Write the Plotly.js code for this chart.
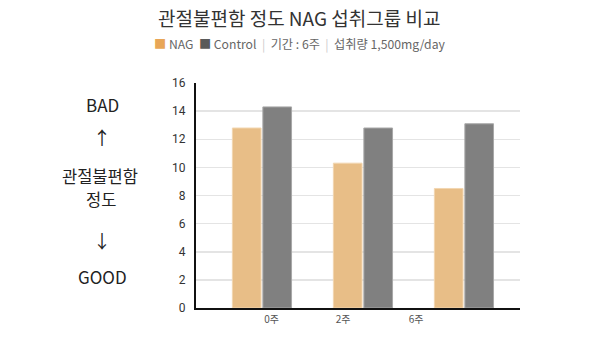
<!DOCTYPE html>
<html><head><meta charset="utf-8">
<script src="https://cdn.plot.ly/plotly-3.0.1.min.js"></script>
<style>body{margin:0;background:#fff}#c{width:598px;height:361px}</style>
</head><body><div id="c"></div>
<script>
const categories = ['0주', '2주', '6주'];
const nagValues = [12.8, 10.3, 8.5];
const controlValues = [14.3, 12.8, 13.1];
const yTicks = [0, 2, 4, 6, 8, 10, 12, 14, 16];
const seriesNames = ['NAG', 'Control'];
const titleText = '관절불편함 정도 NAG 섭취그룹 비교';
const periodText = '기간 : 6주';
const doseText = '섭취량 1,500mg/day';

const KR = '"Noto Sans CJK KR", "Noto Sans", sans-serif';
const W = 598, H = 361;
const L = 196, R = 520, T = 83, B = 308;
const px = x => (x - L) / (R - L);
const py = y => (B - y) / (B - T);

const traces = [
  {type:'bar', name:seriesNames[0], x:[0,1,2], y:nagValues,
   marker:{color:'#E8BE87', line:{color:'#F2D6B0', width:1}}, hoverinfo:'y'},
  {type:'bar', name:seriesNames[1], x:[0,1,2], y:controlValues,
   marker:{color:'#808080', line:{color:'#A8A8A8', width:1}}, hoverinfo:'y'},
  {type:'scatter', x:[0], y:[0], xaxis:'x2', mode:'markers', marker:{opacity:0}, hoverinfo:'skip', showlegend:false}
];

const labelPos = [271.5, 343, 416];
const layout = {
  width: W, height: H,
  margin: {l: L, r: W - R, t: T, b: H - B},
  paper_bgcolor: '#fff', plot_bgcolor: '#fff',
  showlegend: false,
  barmode: 'group', bargap: 0.396, bargroupgap: 0.06,
  font: {family: KR, color: '#333'},
  xaxis: {range: [-0.653, 2.555], showticklabels: false, ticks: '', showgrid: false,
          zeroline: false, showline: true, linecolor: '#111', linewidth: 2, fixedrange: true},
  xaxis2: {overlaying: 'x', range: [L, R], tickvals: labelPos, ticktext: categories,
           showgrid: false, zeroline: false, showline: false, ticks: '', side: 'bottom',
           tickfont: {size: 10, color: '#555', family: KR}, ticklabelstandoff: 4},
  yaxis: {range: [0, 16], tickvals: yTicks, showgrid: true, gridcolor: '#E4E4E4', gridwidth: 1.5,
          zeroline: false, showline: true, linecolor: '#111', linewidth: 2, ticks: '',
          ticklabelstandoff: 6,
          tickfont: {size: 12, color: '#333', family: 'Roboto, sans-serif'}, fixedrange: true},
  annotations: [
    {text: titleText, xref:'paper', yref:'paper', x: px(299), y: py(18), xanchor:'center', yanchor:'middle',
     showarrow:false, font:{size:19, color:'#333', family:KR}},
    {text: '<span style="color:#E8A657">■</span> ' + seriesNames[0] + '  <span style="color:#5A5A5A">■</span> ' + seriesNames[1] +
           '  <span style="color:#CCC">|</span>  ' + periodText + '  <span style="color:#CCC">|</span>  ' + doseText,
     xref:'paper', yref:'paper', x: px(152), y: py(44), xanchor:'left', yanchor:'middle',
     showarrow:false, font:{size:12.2, color:'#666', family:KR}},
    {text:'BAD', xref:'paper', yref:'paper', x:px(102), y:py(104), xanchor:'center', yanchor:'middle', showarrow:false, font:{size:17, color:'#222', family:KR}},
    {text:'↑', xref:'paper', yref:'paper', x:px(102), y:py(137), xanchor:'center', yanchor:'middle', showarrow:false, font:{size:18, color:'#222', family:KR}},
    {text:'관절불편함', xref:'paper', yref:'paper', x:px(100), y:py(176), xanchor:'center', yanchor:'middle', showarrow:false, font:{size:16.5, color:'#222', family:KR}},
    {text:'정도', xref:'paper', yref:'paper', x:px(101), y:py(199), xanchor:'center', yanchor:'middle', showarrow:false, font:{size:16.5, color:'#222', family:KR}},
    {text:'↓', xref:'paper', yref:'paper', x:px(102), y:py(240), xanchor:'center', yanchor:'middle', showarrow:false, font:{size:18, color:'#222', family:KR}},
    {text:'GOOD', xref:'paper', yref:'paper', x:px(102), y:py(276), xanchor:'center', yanchor:'middle', showarrow:false, font:{size:17, color:'#222', family:KR}}
  ]
};
Plotly.newPlot('c', traces, layout, {displayModeBar:false, staticPlot:true});
</script></body></html>
